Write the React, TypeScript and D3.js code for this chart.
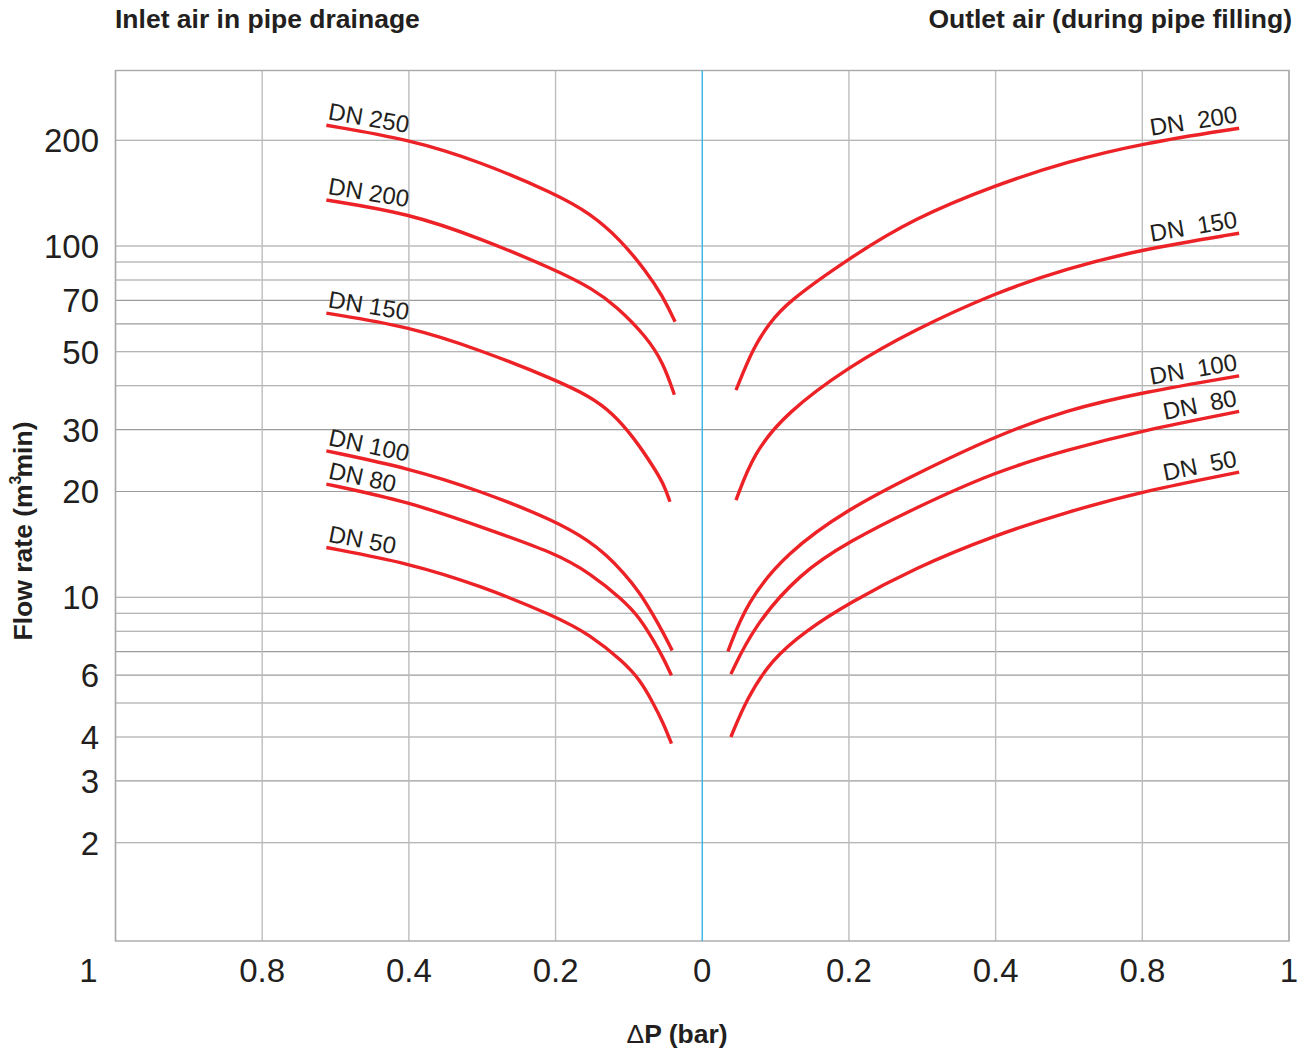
import React from 'react';
import * as d3 from 'd3';

// x axis: ΔP in bar, the inlet side is drawn to the left of zero (negative here)
const dpTicks = [-1, -0.8, -0.4, -0.2, 0, 0.2, 0.4, 0.8, 1];
// y axis: flow rate, log grid
const flowGrid = [2, 3, 4, 5, 6, 7, 8, 9, 10, 20, 30, 40, 50, 60, 70, 80, 90, 100, 200];
const flowLabels = [2, 3, 4, 6, 10, 20, 30, 50, 70, 100, 200];

// Inlet air in pipe drainage  [ΔP, m3/min]
const inletDN250 = [[-0.625, 220.7], [-0.4, 201.3], [-0.303, 173.9], [-0.2, 140.7], [-0.153, 123.9], [-0.112, 104.5], [-0.076, 84.5], [-0.055, 72.6], [-0.037, 60.9]];
const inletDN200 = [[-0.625, 135.2], [-0.4, 123.9], [-0.303, 105.2], [-0.2, 85.5], [-0.149, 75.5], [-0.117, 67.3], [-0.076, 55.2], [-0.053, 46.4], [-0.038, 37.7]];
const inletDN150 = [[-0.625, 64.4], [-0.4, 59.0], [-0.303, 50.6], [-0.2, 41.6], [-0.153, 37.3], [-0.122, 33.4], [-0.094, 28.6], [-0.067, 23.6], [-0.053, 21.1], [-0.044, 18.7]];
const inletDN100 = [[-0.625, 26.1], [-0.4, 23.3], [-0.303, 20.1], [-0.2, 16.5], [-0.153, 14.4], [-0.131, 13.2], [-0.108, 11.8], [-0.085, 10.3], [-0.067, 8.91], [-0.053, 7.91], [-0.041, 7.05]];
const inletDN80 = [[-0.625, 21.0], [-0.4, 18.7], [-0.303, 15.9], [-0.2, 13.35], [-0.153, 11.7], [-0.108, 9.83], [-0.085, 8.72], [-0.067, 7.57], [-0.053, 6.71], [-0.042, 5.99]];
const inletDN50 = [[-0.625, 13.85], [-0.4, 12.5], [-0.303, 10.8], [-0.2, 8.82], [-0.153, 7.82], [-0.108, 6.56], [-0.085, 5.82], [-0.067, 5.0], [-0.053, 4.38], [-0.042, 3.83]];

// Outlet air (during pipe filling)
const outletDN200 = [[0.046, 38.9], [0.07, 51.7], [0.092, 60.3], [0.114, 68.7], [0.2, 92.3], [0.289, 120.0], [0.4, 149.2], [0.596, 173.9], [0.8, 196.1], [0.932, 216.4]];
const outletDN150 = [[0.046, 18.9], [0.07, 25.7], [0.114, 33.4], [0.2, 45.4], [0.289, 57.7], [0.4, 73.7], [0.596, 86.4], [0.8, 97.9], [0.932, 108.7]];
const outletDN100 = [[0.035, 7.01], [0.06, 9.62], [0.114, 13.35], [0.2, 17.9], [0.289, 22.3], [0.4, 28.8], [0.596, 34.2], [0.8, 38.3], [0.932, 42.7]];
const outletDN80 = [[0.039, 6.04], [0.07, 8.25], [0.133, 11.7], [0.2, 14.4], [0.289, 17.9], [0.4, 22.8], [0.596, 26.3], [0.8, 29.8], [0.932, 33.8]];
const outletDN50 = [[0.039, 4.0], [0.06, 5.11], [0.094, 6.64], [0.143, 8.08], [0.2, 9.62], [0.289, 12.1], [0.4, 15.05], [0.596, 17.5], [0.8, 20.0], [0.932, 22.7]];

const inletCurves = [
  { label: 'DN 250', points: inletDN250 },
  { label: 'DN 200', points: inletDN200 },
  { label: 'DN 150', points: inletDN150 },
  { label: 'DN 100', points: inletDN100 },
  { label: 'DN 80', points: inletDN80 },
  { label: 'DN 50', points: inletDN50 },
];
const outletCurves = [
  { label: 'DN  200', points: outletDN200 },
  { label: 'DN  150', points: outletDN150 },
  { label: 'DN  100', points: outletDN100 },
  { label: 'DN  80', points: outletDN80 },
  { label: 'DN  50', points: outletDN50 },
];

const W = 1309;
const H = 1054;
const plot = { left: 115.5, right: 1289, top: 70.5, bottom: 941 };
const font = '"Liberation Sans", Arial, Helvetica, sans-serif';
const ink = '#231f20';
const red = '#ec2227';

export default function App() {
  const step = (plot.right - plot.left) / (dpTicks.length - 1);
  const x = d3.scaleLinear().domain(dpTicks).range(dpTicks.map((_, i) => plot.left + i * step));
  const y = d3.scaleLog().domain([1.05, 316]).range([plot.bottom, plot.top]);

  // the read-off points are a little noisy, a B-spline keeps the curves smooth
  const line = d3.line<number[]>()
    .x(d => x(d[0]))
    .y(d => y(d[1]))
    .curve(d3.curveBasis);

  const angle = (a: number[], b: number[]) =>
    (Math.atan2(y(b[1]) - y(a[1]), x(b[0]) - x(a[0])) * 180) / Math.PI;

  return (
    <svg width={W} height={H} style={{ position: 'absolute', left: 0, top: 0, background: '#fff' }} fontFamily={font}>
      {/* titles */}
      <text x={115} y={28} fontSize={26.5} fontWeight="bold" fill={ink}>Inlet air in pipe drainage</text>
      <text x={1292} y={28} fontSize={26.5} fontWeight="bold" fill={ink} textAnchor="end">Outlet air (during pipe filling)</text>

      {/* horizontal grid */}
      {flowGrid.map(v => (
        <line key={'h' + v} x1={plot.left} x2={plot.right} y1={y(v)} y2={y(v)} stroke="#9c9c9c" strokeWidth={1.1} />
      ))}
      {/* vertical grid */}
      {dpTicks.filter(t => t !== 0).map(t => (
        <line key={'v' + t} x1={x(t)} x2={x(t)} y1={plot.top} y2={plot.bottom} stroke="#bdbdbd" strokeWidth={1.4} />
      ))}
      <rect x={plot.left} y={plot.top} width={plot.right - plot.left} height={plot.bottom - plot.top} fill="none" stroke="#a9a9a9" strokeWidth={1.4} />
      <line x1={x(0)} x2={x(0)} y1={plot.top} y2={plot.bottom} stroke="#35b5e5" strokeWidth={1.4} />

      {/* y tick labels */}
      {flowLabels.map(v => (
        <text key={'yl' + v} x={99} y={y(v)} dy="0.36em" fontSize={33} fill={ink} textAnchor="end">{v}</text>
      ))}
      {/* x tick labels */}
      {dpTicks.map((t, i) => (
        <text key={'xl' + i} x={i === 0 ? x(t) - 27 : x(t)} y={982} fontSize={33} fill={ink} textAnchor="middle">
          {String(Math.abs(t))}
        </text>
      ))}

      {/* axis titles */}
      <text x={677} y={1043} fontSize={26.5} fontWeight="bold" fill={ink} textAnchor="middle">
        <tspan fontWeight="normal">Δ</tspan>P (bar)
      </text>
      <text transform="translate(32,531) rotate(-90)" fontSize={26.5} fontWeight="bold" fill={ink} textAnchor="middle">
        Flow rate (m<tspan fontSize={16} dy={-11}>3</tspan><tspan dy={11} dx={-2}>min)</tspan>
      </text>

      {/* curves */}
      {inletCurves.concat(outletCurves).map(c => (
        <path key={'c' + c.label + c.points[0][0]} d={line(c.points) || ''} fill="none" stroke={red} strokeWidth={3.4} />
      ))}

      {/* curve labels */}
      {inletCurves.map(c => {
        const p0 = c.points[0];
        const p1 = c.points[1];
        return (
          <text key={'il' + c.label} transform={`translate(${x(p0[0])},${y(p0[1])}) rotate(${angle(p0, p1)})`}
            y={-6} fontSize={24} fill={ink} style={{ whiteSpace: 'pre' }}>{c.label}</text>
        );
      })}
      {outletCurves.map(c => {
        const n = c.points.length;
        const a = c.points[n - 2];
        const b = c.points[n - 1];
        return (
          <text key={'ol' + c.label} transform={`translate(${x(b[0])},${y(b[1])}) rotate(${angle(a, b)})`}
            y={-6} fontSize={24} fill={ink} textAnchor="end" style={{ whiteSpace: 'pre' }}>{c.label}</text>
        );
      })}
    </svg>
  );
}
